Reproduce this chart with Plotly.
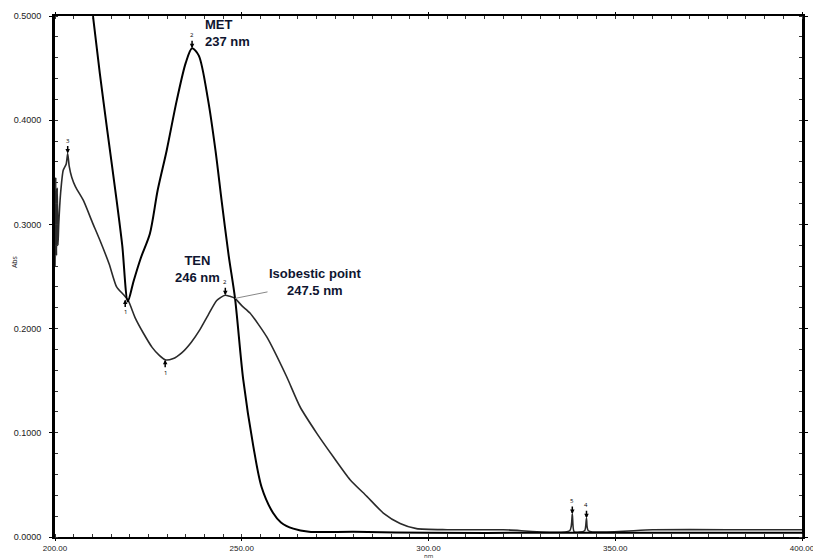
import plotly.graph_objects as go

# ---- data ----
met_nm = [200, 203, 206, 208, 210, 212, 214, 216.5, 218, 219.5, 221, 223, 225.4, 227.5, 229.9,
          232.6, 235, 236.7, 238.5, 241, 243, 244.6, 246.5, 248.2, 250.4, 253.1, 255.3, 258.4,
          260.5, 263.8, 268, 280, 300, 330, 360, 400]
met_abs = [0.78, 0.70, 0.62, 0.56, 0.505, 0.445, 0.39, 0.323, 0.28, 0.226, 0.245, 0.268, 0.291,
           0.333, 0.371, 0.419, 0.455, 0.469, 0.462, 0.419, 0.370, 0.323, 0.270, 0.229, 0.151,
           0.087, 0.048, 0.023, 0.014, 0.008, 0.005, 0.005, 0.004, 0.004, 0.004, 0.004]

ten_nm = [200.0, 200.2, 200.4, 200.6, 200.8, 201.0, 201.5, 202.2, 203.0, 203.4, 203.8, 204.5,
          205.5, 207.6, 210, 212, 214.5, 216.5, 218.5, 219.6, 221.5, 223.6, 226, 228, 229.5,
          231.5, 234, 236.5, 238.8, 241, 243.3, 245.5, 246.8, 248.2, 250, 252.2, 256.7, 262,
          265.6, 270.1, 274.5, 279, 283.5, 287.9, 292.4, 296.8, 305, 320, 337.8, 338.5, 339.0,
          341.8, 342.3, 342.8, 360, 380, 400]
ten_abs = [0.26, 0.345, 0.27, 0.335, 0.28, 0.30, 0.33, 0.352, 0.358, 0.368, 0.356, 0.345,
           0.336, 0.323, 0.302, 0.285, 0.262, 0.240, 0.232, 0.227, 0.210, 0.196, 0.182, 0.174,
           0.170, 0.171, 0.177, 0.187, 0.199, 0.213, 0.227, 0.232, 0.231, 0.229, 0.222, 0.215,
           0.192, 0.154, 0.125, 0.0995, 0.077, 0.055, 0.039, 0.023, 0.013, 0.008, 0.007, 0.007,
           0.006, 0.022, 0.005, 0.006, 0.018, 0.006, 0.007, 0.007, 0.007]

# peak / valley pick markers
peak_nm = [203.4, 236.7, 245.6, 338.5, 342.3]
peak_abs = [0.368, 0.469, 0.232, 0.022, 0.018]
peak_lbl = ["3", "2", "2", "5", "4"]
valley_nm = [218.8, 229.5]
valley_abs = [0.228, 0.170]
valley_lbl = ["1", "1"]

x_ticks = [200, 250, 300, 350, 400]
y_ticks = [0.0, 0.1, 0.2, 0.3, 0.4, 0.5]

fig = go.Figure()
fig.add_trace(go.Scatter(x=ten_nm, y=ten_abs, mode="lines",
                         line=dict(color="#2a2a2a", width=1.6, shape="spline", smoothing=0.6),
                         showlegend=False))
fig.add_trace(go.Scatter(x=met_nm, y=met_abs, mode="lines",
                         line=dict(color="#000000", width=2, shape="spline", smoothing=0.8),
                         showlegend=False))

anns = []
for x, y, t in zip(peak_nm, peak_abs, peak_lbl):
    anns.append(dict(x=x, y=y, text=t, showarrow=True, arrowhead=2, arrowsize=0.6,
                     arrowwidth=1.5, arrowcolor="black", ax=0, ay=-13,
                     font=dict(size=6, color="black")))
for x, y, t in zip(valley_nm, valley_abs, valley_lbl):
    anns.append(dict(x=x, y=y, text=t, showarrow=True, arrowhead=2, arrowsize=0.6,
                     arrowwidth=1.5, arrowcolor="black", ax=0, ay=13,
                     font=dict(size=6, color="black")))

lab_font = dict(family="Liberation Sans, Arial", size=13, color="#0f1530")
anns.append(dict(x=239.5, y=0.484, text="<b>MET<br>237 nm</b>", showarrow=False,
                 xanchor="left", yanchor="middle", align="left", font=lab_font))
anns.append(dict(x=244.7, y=0.257, text="<b>TEN<br>246 nm</b>", showarrow=False,
                 xanchor="right", yanchor="middle", align="center", font=lab_font))
anns.append(dict(x=248.2, y=0.229, text="<b>Isobestic point<br>247.5 nm</b>",
                 showarrow=True, arrowhead=0, arrowwidth=1, arrowcolor="#888888",
                 ax=80, ay=-16, align="center", font=lab_font))
anns.append(dict(x=0.5, y=0, xref="paper", yref="paper", text="nm", showarrow=False,
                 yanchor="top", yshift=-13, font=dict(size=6, color="#222")))
anns.append(dict(x=-0.062, y=0.528, xref="paper", yref="paper", text="Abs",
                 showarrow=False, textangle=-90, font=dict(size=7, color="#222")))

fig.update_layout(
    width=813, height=560,
    margin=dict(l=55, r=11, t=16, b=23),
    paper_bgcolor="white", plot_bgcolor="white",
    annotations=anns,
    xaxis=dict(range=[200, 400], tickvals=x_ticks, tickformat=".2f", automargin=False,
               showgrid=False, zeroline=False, showline=True, linecolor="black",
               linewidth=2, mirror="allticks", ticks="outside", ticklen=2,
               tickcolor="black", ticklabeloverflow="allow",
               minor=dict(dtick=5, ticks="inside", ticklen=3, tickcolor="#333"),
               tickfont=dict(family="Liberation Sans, Arial", size=8, color="#222")),
    yaxis=dict(range=[0, 0.5], tickvals=y_ticks, tickformat=".4f", automargin=False,
               showgrid=False, zeroline=False, showline=True, linecolor="black",
               linewidth=3, mirror="allticks", ticks="outside", ticklen=3,
               tickcolor="black", ticklabelstandoff=6,
               minor=dict(dtick=0.02, ticks="inside", ticklen=3, tickcolor="#333"),
               tickfont=dict(family="Liberation Sans, Arial", size=9, color="#222")),
)

fig.write_html("out.html", config={"displayModeBar": False},
               post_script="document.body.style.margin='0';")
